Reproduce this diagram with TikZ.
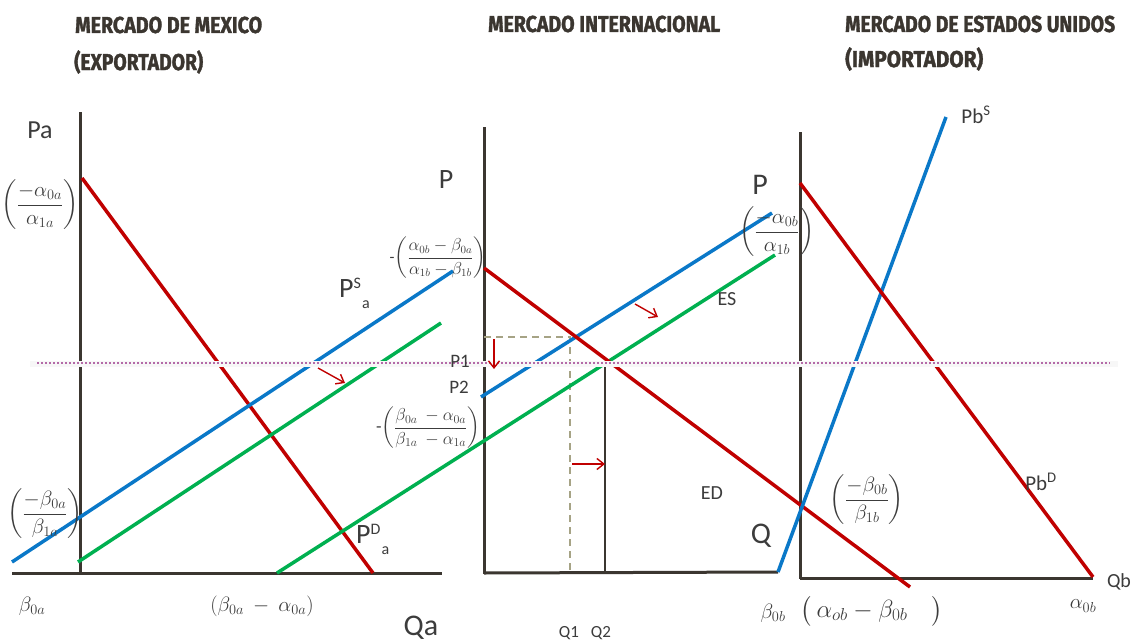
\documentclass[tikz,border=0pt]{standalone}
\usepackage{fontspec}
\usepackage{amsmath}
\usepackage{graphicx}
\setmainfont{Carlito}
\newfontfamily\ttlfont[BoldFeatures={FakeBold=1.6}]{Fira Sans}
\usetikzlibrary{arrows.meta}

\definecolor{axisgray}{HTML}{3B3630}
\definecolor{txtgray}{HTML}{3C3C3C}
\definecolor{dred}{HTML}{C00000}
\definecolor{dblue}{HTML}{0A78C8}
\definecolor{dgreen}{HTML}{00B050}
\definecolor{khaki}{HTML}{A6A385}
\definecolor{mauve}{HTML}{B46AA8}

\newcommand{\ttl}[2]{\resizebox{#1}{\height}{\ttlfont\bfseries #2}}
\newcommand{\fs}[1]{\fontsize{#1}{#1}\selectfont}

\begin{document}
\begin{tikzpicture}[
  x=1pt,y=-1pt,
  axline/.style={line width=3pt,axisgray},
  deml/.style={line width=3.5pt,dred},
  supl/.style={line width=3.5pt,dblue},
  excl/.style={line width=3.5pt,dgreen},
  mvarrow/.style={-{Straight Barb[length=7pt,width=11pt]},dred,line width=1.4pt},
  guide/.style={line width=1.2pt,axisgray},
  dguide/.style={line width=1.2pt,khaki,dash pattern=on 7pt off 5pt},
  lbl/.style={inner sep=0pt,text=txtgray},
  ttlnode/.style={inner sep=0pt,anchor=west,text=axisgray}
]
  \useasboundingbox[fill=white] (0,0) rectangle (1132,642);

  % titulos
  \node[ttlnode] (t1) at (75,25) {\ttl{187pt}{\fs{23}MERCADO DE MEXICO}};
  \node[ttlnode] (t1b) at (74,62) {\ttl{129pt}{\fs{23}(EXPORTADOR)}};
  \node[ttlnode] (t2) at (488,24) {\ttl{232pt}{\fs{23}MERCADO INTERNACIONAL}};
  \node[ttlnode] (t3) at (845,24) {\ttl{270pt}{\fs{23}MERCADO DE ESTADOS UNIDOS}};
  \node[ttlnode] (t3b) at (845,59) {\ttl{138pt}{\fs{23}(IMPORTADOR)}};

  % ejes
  \coordinate (oA) at (80,573);
  \coordinate (oI) at (484,573);
  \coordinate (oB) at (800,578);
  \draw[axline] (80,112) -- (80,575);
  \draw[axline] (12,573) -- (442,573);
  \draw[axline] (484,127) -- (484,574);
  \draw[axline] (484,573) -- (778,572);
  \draw[axline] (800,132) -- (800,579);
  \draw[axline] (800,578) -- (1093,578);

  % guias del equilibrio
  \coordinate (E1) at (605,362);
  \coordinate (E0) at (570,337);
  \draw[dguide] (484,337) -- (E0) -- (570,573);
  \draw[guide] (484,362) -- (E1) -- (605,573);

  % curvas
  \draw[deml] (82,178) -- (373,573);
  \draw[supl] (12,562) -- (453,271);
  \draw[excl] (78,562) -- (441,323);
  \draw[excl] (277,573) -- (775,255);
  \draw[supl] (481,397) -- (772,213);
  \draw[deml] (484,268) -- (910,587);
  \draw[supl] (778,572) -- (946,117);
  \draw[deml] (800,183) -- (1093,577);

  % linea de precio
  \draw[black!3,line width=6pt] (30,364) -- (1118,364);
  \draw[mauve,line width=2pt,dash pattern=on 2pt off 2pt] (37,363) -- (1110,363);

  % desplazamientos
  \draw[mvarrow] (318,368) -- (345,383);
  \draw[mvarrow] (494,339) -- (494,369);
  \draw[mvarrow] (572,464) -- (605,464);
  \draw[mvarrow] (635,304) -- (658,317);

  % etiquetas mexico
  \node[lbl,font=\fs{26}] (pa) at (40,130) {Pa};
  \node[lbl,font=\fs{20}] (ia) at (40,205) {$\left(\dfrac{-\alpha_{0a}}{\alpha_{1a}}\right)$};
  \node[lbl,font=\fs{20}] (ib) at (45,514) {$\left(\dfrac{-\beta_{0a}}{\beta_{1a}}\right)$};
  \node[lbl,font=\fs{20}] (b0a) at (32,606) {$\beta_{0a}$};
  \node[lbl,font=\fs{20}] (dqa) at (262,606) {$(\beta_{0a}\ -\ \alpha_{0a})$};
  \node[lbl,font=\fs{30}] (qa) at (421,628) {Qa};
  \node[lbl,font=\fs{28},anchor=west] (psa) at (339,293) {P\raisebox{9pt}{\fs{16}S}\hspace{1pt}\raisebox{-11pt}{\fs{16}a}};
  \node[lbl,font=\fs{28},anchor=west] (pda) at (356,539) {P\raisebox{9pt}{\fs{16}D}\hspace{1pt}\raisebox{-11pt}{\fs{16}a}};

  % etiquetas internacional
  \node[lbl,font=\fs{28}] (p) at (446,180) {P};
  \node[lbl,font=\fs{16}] (ip) at (438,258) {-$\left(\dfrac{\alpha_{0b}-\beta_{0a}}{\alpha_{1b}-\beta_{1b}}\right)$};
  \node[lbl,font=\fs{18}] (iq) at (428,428) {-$\left(\dfrac{\beta_{0a}\ -\alpha_{0a}}{\beta_{1a}\ -\alpha_{1a}}\right)$};
  \node[lbl,font=\fs{19}] (p1) at (460,361) {P1};
  \node[lbl,font=\fs{19}] (p2) at (459,387) {P2};
  \node[lbl,font=\fs{20}] (es) at (727,299) {ES};
  \node[lbl,font=\fs{20}] (ed) at (712,493) {ED};
  \node[lbl,font=\fs{30}] (q) at (761,536) {Q};
  \node[lbl,font=\fs{17}] (q1) at (569,633) {Q1};
  \node[lbl,font=\fs{17}] (q2) at (601,633) {Q2};

  % etiquetas estados unidos
  \node[lbl,font=\fs{30}] (pb) at (760,185) {P};
  \node[lbl,font=\fs{20}] (ic) at (777,232) {$\left(\dfrac{-\alpha_{0b}}{\alpha_{1b}}\right)$};
  \node[lbl,font=\fs{20}] (id) at (867,500) {$\left(\dfrac{-\beta_{0b}}{\beta_{1b}}\right)$};
  \node[lbl,font=\fs{21}] (pbs) at (976,115) {Pb\textsuperscript{S}};
  \node[lbl,font=\fs{21}] (pbd) at (1041,482) {Pb\textsuperscript{D}};
  \node[lbl,font=\fs{20}] (qb) at (1119,582) {Qb};
  \node[lbl,font=\fs{20}] (a0b) at (1083,606) {$\alpha_{0b}$};
  \node[lbl,font=\fs{20}] (b0b) at (773,613) {$\beta_{0b}$};
  \node[lbl,font=\fs{24}] (dqb) at (872,611) {$\big(\,\alpha_{ob} - \beta_{0b}\quad\big)$};
\end{tikzpicture}
\end{document}
